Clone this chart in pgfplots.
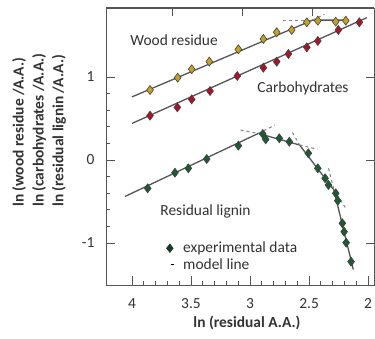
\documentclass[border=0pt]{standalone}
\usepackage{fontspec}
\setmainfont{Carlito}
\usepackage{pgfplots}
\pgfplotsset{compat=1.18}
\definecolor{woodc}{RGB}{196,160,40}
\definecolor{carbc}{RGB}{170,20,40}
\definecolor{ligc}{RGB}{30,90,50}
\definecolor{legc}{RGB}{20,60,35}
\definecolor{linec}{RGB}{85,85,85}
\definecolor{dashc}{RGB}{135,135,135}
\definecolor{txtc}{RGB}{50,50,50}
\pgfplotsset{
  legdiam/.style={legend image code/.code={\path[draw=none,fill=none] (0cm,0cm) -- (0.65cm,0cm);
     \path[draw=black!80, fill=legc, line width=0.6bp] (0.25cm,4.3bp) -- ++(3.3bp,-4.3bp) -- ++(-3.3bp,-4.3bp) -- ++(-3.3bp,4.3bp) -- cycle;}},
  legdash/.style={legend image code/.code={\path[draw=none,fill=none] (0cm,0cm) -- (0.65cm,0cm);
     \path[draw=black,line width=1.2bp] (0.28cm,0cm) -- (0.40cm,0cm);}}
}
\begin{document}
\begin{tikzpicture}
\useasboundingbox (-106bp,-54bp) rectangle (269bp,285bp);
\begin{axis}[
  at={(0,0)}, anchor=south west,
  width=268bp, height=277bp, scale only axis,
  x dir=reverse,
  xmin=1.95, xmax=4.22, ymin=-1.506, ymax=1.831,
  xtick={2,2.5,3,3.5,4},
  ytick={-1,0,1},
  minor x tick num=4, minor y tick num=4,
  xtick pos=left, ytick pos=left, tick align=inside,
  major tick length=9bp, minor tick length=4.5bp,
  axis line style={linec, line width=0.9bp},
  every tick/.style={linec, line width=0.8bp},
  tick label style={font=\fontsize{15.5}{18}\selectfont, text=txtc},
  /pgf/number format/assume math mode=true,
  xticklabel style={yshift=-10bp},
  yticklabel style={xshift=-8bp},
  xlabel={ln (residual A.A.)},
  xlabel style={at={(axis description cs:0.526,0)}, anchor=base, yshift=-42bp, font=\bfseries\fontsize{15.5}{18}\selectfont, text=txtc},
  ylabel={ln (wood residue /A.A.)\\ ln (carbohydrates /A.A.)\\ ln (residual lignin /A.A.)},
  ylabel style={at={(axis description cs:-0.351,0.2816)}, anchor=north west, rotate=0, align=left, inner sep=0pt, font=\bfseries\fontsize{15.5}{20}\selectfont, text=txtc},
  legend style={draw=none, fill=none, at={(rel axis cs:0.2,0.17)}, anchor=north west, font=\fontsize{15.5}{18}\selectfont, text=txtc, row sep=0bp},
  legend cell align=left,
]
% model lines
\addplot[forget plot, linec, line width=1.3bp] coordinates {(4.0,0.76)(2.47,1.685)(2.17,1.685)};
\addplot[forget plot, dashc, dashed, line width=1.1bp] coordinates {(2.47,1.685)(2.37,1.755)};
\addplot[forget plot, dashc, dashed, line width=1.1bp] coordinates {(2.72,1.685)(2.47,1.685)};
\addplot[forget plot, linec, line width=1.3bp] coordinates {(4.0,0.44)(2.01,1.715)};
\addplot[forget plot, linec, line width=1.3bp] coordinates {(4.06,-0.44)(2.93,0.32)(2.58,0.18)(2.29,-0.36)(2.125,-1.32)};
\addplot[forget plot, dashc, dashed, line width=1.1bp] coordinates {(2.93,0.32)(2.79,0.42)};
\addplot[forget plot, dashc, dashed, line width=1.1bp] coordinates {(3.08,0.36)(2.93,0.32)};
\addplot[forget plot, dashc, dashed, line width=1.1bp] coordinates {(2.58,0.18)(2.43,0.13)};
\addplot[forget plot, dashc, dashed, line width=1.1bp] coordinates {(2.64,0.33)(2.58,0.18)};
\addplot[forget plot, dashc, dashed, line width=1.1bp] coordinates {(2.29,-0.36)(2.19,-0.58)};
\addplot[forget plot, dashc, dashed, line width=1.1bp] coordinates {(2.335,-0.10)(2.29,-0.36)};
% experimental data
\addplot[forget plot, only marks, mark=diamond*, mark size=4.5bp, mark options={fill=woodc, draw=black!75, line width=0.6bp}] coordinates {
(3.847,0.843)(3.613,0.992)(3.494,1.093)(3.345,1.185)(3.099,1.333)(2.887,1.458)(2.774,1.539)(2.647,1.566)(2.519,1.659)(2.426,1.678)(2.274,1.666)(2.189,1.678)};
\addplot[forget plot, only marks, mark=diamond*, mark size=4.5bp, mark options={fill=carbc, draw=black!75, line width=0.6bp}] coordinates {
(3.847,0.534)(3.616,0.635)(3.494,0.731)(3.339,0.831)(3.108,1.012)(2.887,1.112)(2.774,1.184)(2.675,1.277)(2.519,1.357)(2.426,1.434)(2.252,1.566)(2.074,1.659)};
\addplot[forget plot, only marks, mark=diamond*, mark size=4.5bp, mark options={fill=ligc, draw=black!75, line width=0.6bp}] coordinates {
(3.867,-0.341)(3.636,-0.153)(3.523,-0.100)(3.367,0.012)(3.099,0.173)(2.892,0.313)(2.867,0.249)(2.752,0.261)(2.667,0.220)(2.506,0.081)(2.426,-0.100)(2.364,-0.220)(2.336,-0.301)(2.274,-0.401)(2.257,-0.490)(2.218,-0.762)(2.203,-0.864)(2.186,-0.996)(2.144,-1.225)};
\addlegendimage{legdiam}
\addlegendentry{experimental data}
\addlegendimage{legdash}
\addlegendentry{model line}
\node[anchor=west, text=txtc, font=\fontsize{15.5}{18}\selectfont] at (rel axis cs:0.078,0.884) {Wood residue};
\node[anchor=west, text=txtc, font=\fontsize{15.5}{18}\selectfont] at (rel axis cs:0.552,0.708) {Carbohydrates};
\node[anchor=west, text=txtc, font=\fontsize{15.5}{18}\selectfont] at (rel axis cs:0.19,0.267) {Residual lignin};
\end{axis}
% overlay: major ticks on top and right sides
\begin{axis}[
  at={(0,0)}, anchor=south west,
  width=268bp, height=277bp, scale only axis, clip=false,
  x dir=reverse,
  xmin=1.95, xmax=4.22, ymin=-1.506, ymax=1.831,
  xtick={2.475,3.068,3.661}, ytick={-1,0,1},
  xticklabels={}, yticklabels={},
  xtick pos=right, ytick pos=right, tick align=inside,
  major tick length=8bp,
  axis line style={linec, line width=0.9bp},
  every tick/.style={linec, line width=0.9bp},
]
\end{axis}
\draw[linec, line width=1bp] (0bp,277bp) -- (268bp,277bp);
\end{tikzpicture}
\end{document}
